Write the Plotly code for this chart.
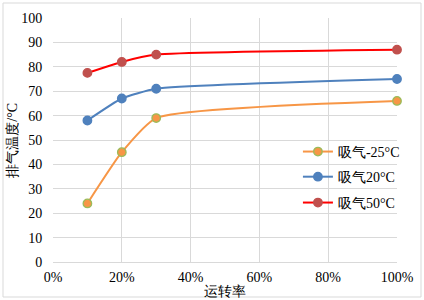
import plotly.graph_objects as go

x_vals = [0.10, 0.20, 0.30, 1.00]
s_names = ["吸气-25°C", "吸气20°C", "吸气50°C"]
s_minus25 = [24, 45, 59, 66]
s_20 = [58, 67, 71, 75]
s_50 = [77.5, 82, 85, 87]

line_colors = ["#F79646", "#4F81BD", "#FF0000"]
marker_fill = ["#F79646", "#4F81BD", "#C0504D"]
marker_line = ["#9BBB59", "#4F81BD", "#C0504D"]
legend_ids = ["legend", "legend2", "legend3"]
legend_y = [0.451, 0.348, 0.242]

font_main = "Liberation Serif"

fig = go.Figure()
for name, ys, lc, mf, ml, lid in zip(s_names, [s_minus25, s_20, s_50], line_colors,
                                     marker_fill, marker_line, legend_ids):
    fig.add_trace(go.Scatter(
        x=x_vals, y=ys, name=name, mode="lines+markers",
        line=dict(color=lc, width=2, shape="spline", smoothing=0.5),
        marker=dict(size=8.5, color=mf, line=dict(color=ml, width=1.3)),
        cliponaxis=False, legend=lid,
    ))

leg_common = dict(x=0.712, xanchor="left", yanchor="middle", bgcolor="rgba(255,255,255,0)",
                  font=dict(size=14, family=font_main), itemwidth=30)

fig.update_layout(
    width=424, height=300,
    margin=dict(l=53, r=27, t=18, b=38, autoexpand=False),
    paper_bgcolor="white", plot_bgcolor="white",
    font=dict(family=font_main, size=14, color="black"),
    showlegend=True,
    legend=dict(y=legend_y[0], **leg_common),
    legend2=dict(y=legend_y[1], **leg_common),
    legend3=dict(y=legend_y[2], **leg_common),
    xaxis=dict(range=[0, 1.0], tickvals=[0, 0.2, 0.4, 0.6, 0.8, 1.0], tickformat=".0%",
               showgrid=True, gridcolor="#D9D9D9", gridwidth=1,
               showline=True, linecolor="#D9D9D9", zeroline=False, automargin=False,
               ticks="outside", ticklen=0, ticklabelstandoff=2),
    yaxis=dict(range=[0, 100], dtick=10, showgrid=True, gridcolor="#D9D9D9", gridwidth=1,
               showline=False, zeroline=False, automargin=False,
               ticks="outside", ticklen=0, ticklabelstandoff=7),
    annotations=[
        dict(text="运转率", xref="paper", yref="paper", x=0.5, y=-0.083,
             xanchor="center", yanchor="top", showarrow=False, font=dict(size=14)),
        dict(text="排气温度/°C", xref="paper", yref="paper", x=-0.12, y=0.5,
             xanchor="center", yanchor="middle", textangle=-90, showarrow=False, font=dict(size=14)),
    ],
    shapes=[dict(type="rect", xref="paper", yref="paper",
                 x0=-50/344, x1=1 + 24/344, y0=-35/244, y1=1 + 15/244,
                 line=dict(color="#D9D9D9", width=1), fillcolor="rgba(0,0,0,0)", layer="below")],
)

fig.write_html("out.html", post_script="document.body.style.margin='0';",
               config={"displayModeBar": False})
